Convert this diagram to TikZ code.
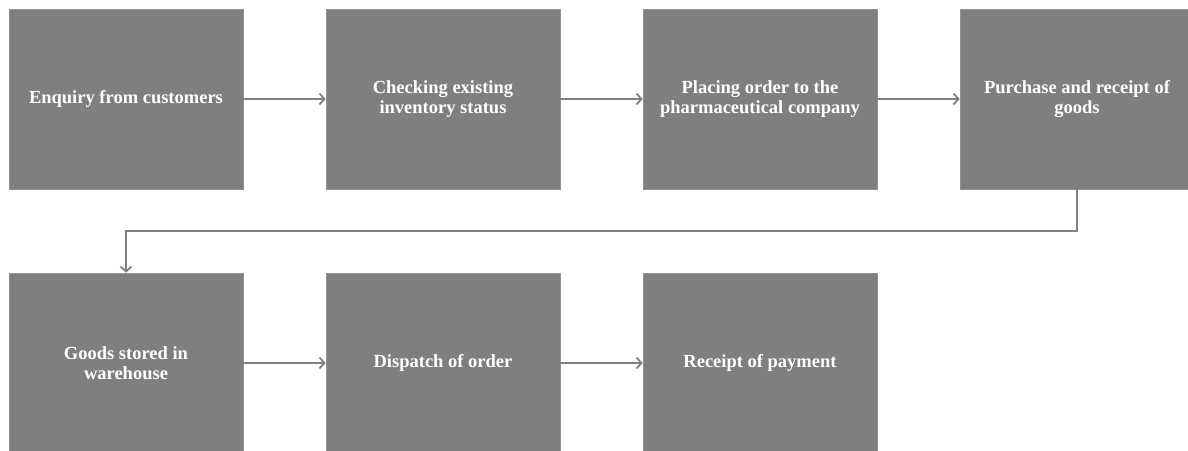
\documentclass[tikz,border=0pt]{standalone}
\usepackage{fontspec}
\setmainfont{Liberation Serif}
\usetikzlibrary{arrows.meta}
\definecolor{boxgray}{HTML}{7F7F7F}
\definecolor{linegray}{HTML}{808080}
\begin{document}
\begin{tikzpicture}[x=1pt,y=-1pt,
  stepbox/.style={fill=boxgray,draw=boxgray!85!white,line width=0.6pt,minimum width=234pt,minimum height=180pt,
    align=center,text=white,inner sep=0pt,
    font=\bfseries\fontsize{18.5}{20.5}\selectfont},
  flow/.style={draw=linegray,line width=2.4pt,-{Straight Barb[length=5pt,width=11pt,line width=1.8pt]}}]
\useasboundingbox (0,0) rectangle (1188,450);
\begin{scope}
\clip (0,0) rectangle (1188,450);
\node[stepbox] (a) at (126,99) {Enquiry from customers};
\node[stepbox] (b) at (443,99) {Checking existing\\inventory status};
\node[stepbox] (c) at (760,99) {Placing order to the\\pharmaceutical company};
\node[stepbox] (d) at (1077,99) {Purchase and receipt of\\goods};
\node[stepbox] (e) at (126,363) {Goods stored in\\warehouse};
\node[stepbox] (f) at (443,363) {Dispatch of order};
\node[stepbox] (g) at (760,363) {Receipt of payment};
\draw[flow] (a) -- (b);
\draw[flow] (b) -- (c);
\draw[flow] (c) -- (d);
\draw[flow] (d.south) -- (1077,231) -- (126,231) -- (e.north);
\draw[flow] (e) -- (f);
\draw[flow] (f) -- (g);
\end{scope}
\end{tikzpicture}
\end{document}
